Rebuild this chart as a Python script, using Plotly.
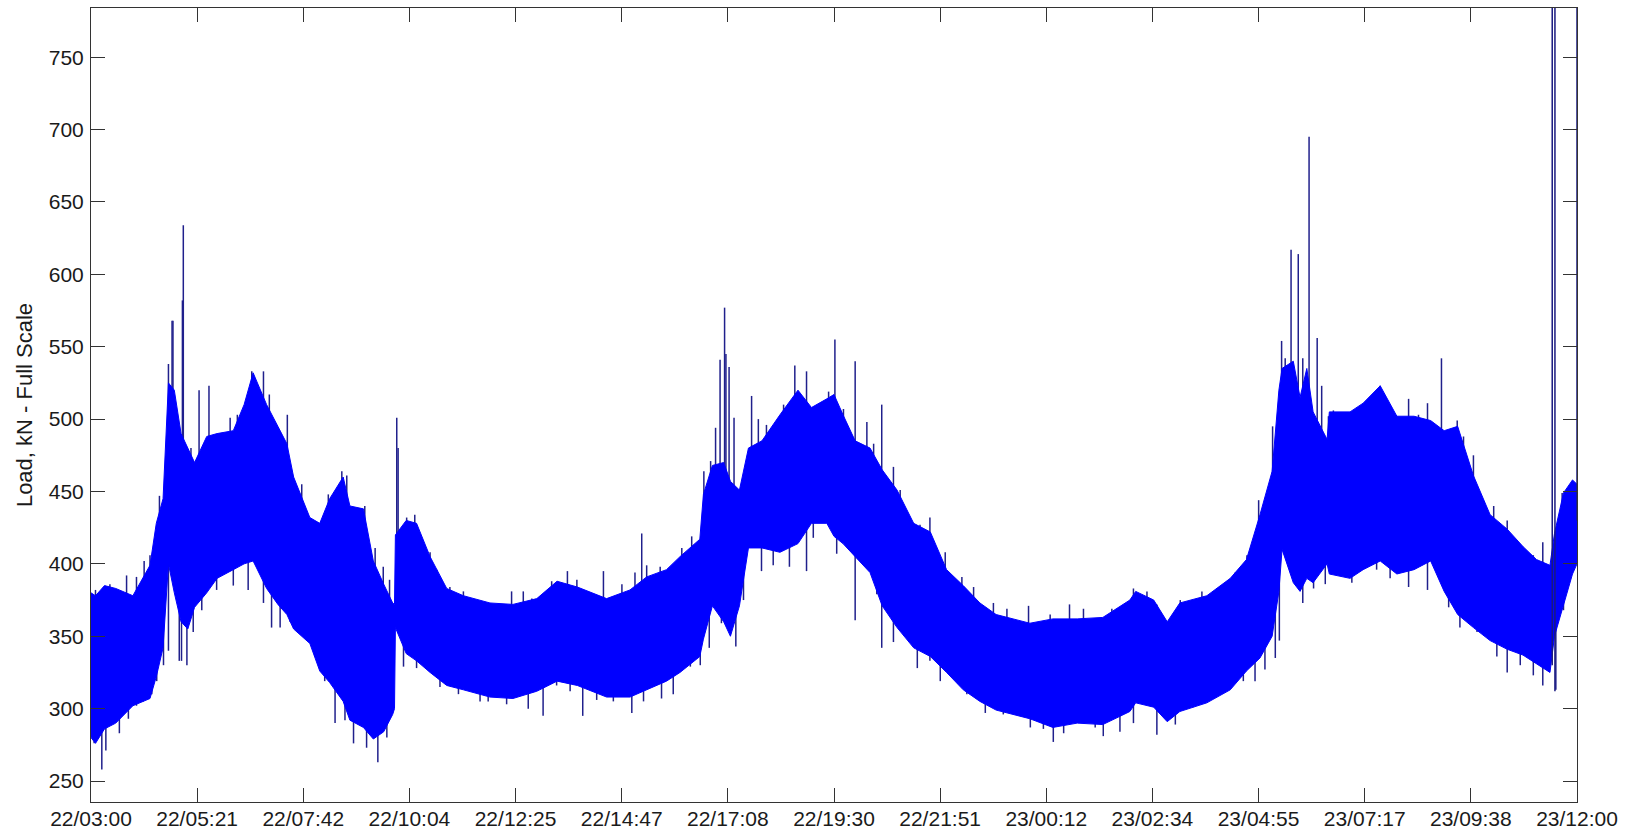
import pandas as pd
import plotly.graph_objects as go

# ---- data ----
# hours after 22/03:00, upper and lower edge of the dense load band (kN)
env_hours = [0.00, 0.10, 0.30, 0.55, 0.93, 1.31, 1.45, 1.60, 1.72, 1.85, 2.00, 2.15, 2.30, 2.57,
             2.80, 3.16, 3.40, 3.60, 3.90, 4.15, 4.35, 4.50, 4.86, 5.08, 5.30, 5.60, 5.75, 6.05,
             6.27, 6.50, 6.70, 6.74, 6.76, 7.00, 7.23, 7.53, 7.90, 8.27, 8.86, 9.37, 9.90, 10.35,
             10.80, 11.45, 11.97, 12.34, 12.78, 13.08, 13.52, 13.60, 13.80, 14.05, 14.20, 14.40,
             14.60, 14.90, 15.30, 15.70, 16.00, 16.34, 16.50, 16.70, 16.97, 17.30, 17.57, 17.90,
             18.27, 18.64, 19.00, 19.37, 19.74, 20.10, 20.85, 21.36, 21.90, 22.47, 23.07, 23.20,
             23.60, 23.90, 24.18, 24.78, 25.30, 25.66, 25.96, 26.23, 26.38, 26.45, 26.70, 26.85,
             27.00, 27.14, 27.45, 27.50, 27.96, 28.25, 28.63, 29.00, 29.38, 29.75, 30.05, 30.35,
             30.70, 31.07, 31.45, 31.80, 32.10, 32.40, 32.50, 32.70, 32.90, 33.00]
env_upper = [380, 378, 385, 383, 378, 399, 428, 445, 525, 520, 490, 480, 470, 488,
             490, 492, 510, 532, 510, 495, 483, 460, 432, 428, 445, 460, 440, 438,
             402, 386, 373, 372, 420, 430, 428, 405, 383, 378, 373, 372, 376, 388,
             384, 376, 382, 391, 396, 405, 417, 448, 468, 470, 457, 451,
             480, 485, 503, 520, 508, 514, 517, 503, 485, 480, 465, 451,
             428, 422, 396, 385, 373, 365, 359, 362, 362, 363, 375, 381,
             375, 360, 373, 378, 390, 403, 434, 464, 520, 535, 540, 515,
             535, 505, 486, 505, 505, 511, 523, 502, 502, 499, 492, 495,
             461, 434, 424, 412, 403, 399, 421, 449, 458, 455]
env_lower = [280, 276, 286, 290, 302, 307, 322, 342, 400, 380, 360, 355, 370, 380,
             390, 396, 400, 402, 383, 372, 365, 355, 345, 326, 318, 305, 292, 287,
             279, 284, 296, 300, 356, 338, 333, 325, 316, 313, 308, 307, 312, 319,
             316, 308, 308, 313, 319, 325, 336, 348, 371, 360, 350, 371,
             411, 411, 408, 414, 428, 428, 419, 414, 405, 394, 371, 356,
             342, 336, 325, 313, 305, 299, 293, 287, 290, 289, 298, 304,
             301, 291, 298, 304, 313, 326, 335, 350, 381, 410, 387, 381,
             390, 387, 400, 393, 390, 396, 402, 393, 396, 402, 381, 365,
             356, 347, 341, 337, 331, 325, 350, 371, 393, 400]

# short excursions beyond the band edge: time (h), low end, high end (kN)
spike_hours = [0.07, 0.10, 0.24, 0.33, 0.42, 0.63, 0.79, 0.83, 1.01, 1.01, 1.16, 1.18, 1.31, 1.35,
               1.46, 1.52, 1.61, 1.72, 1.80, 1.82, 1.96, 2.01, 2.03, 2.05, 2.13, 2.22, 2.27, 2.40,
               2.46, 2.62, 2.79, 3.09, 3.16, 3.25, 3.49, 3.57, 3.83, 3.96, 4.01, 4.20, 4.36, 4.42,
               4.57, 4.68, 4.75, 4.97, 5.19, 5.27, 5.42, 5.57, 5.64, 5.68, 5.83, 5.92, 6.08, 6.12,
               6.31, 6.37, 6.49, 6.57, 6.63, 6.79, 6.82, 6.94, 7.01, 7.19, 7.23, 7.42, 7.53, 7.68,
               7.75, 7.97, 8.16, 8.27, 8.64, 8.82, 9.23, 9.34, 9.60, 9.71, 9.79, 10.04, 10.23, 10.34,
               10.58, 10.64, 10.79, 10.92, 11.23, 11.38, 11.60, 11.79, 12.01, 12.08, 12.23, 12.27,
               12.34, 12.64, 12.67, 12.93, 13.12, 13.31, 13.34, 13.53, 13.61, 13.73, 13.76, 13.87,
               13.97, 14.00, 14.07, 14.10, 14.16, 14.17, 14.28, 14.32, 14.49, 14.67, 14.82, 14.89,
               15.00, 15.15, 15.38, 15.51, 15.63, 15.89, 16.04, 16.19, 16.38, 16.52, 16.56, 16.71,
               16.97, 17.23, 17.38, 17.45, 17.56, 17.82, 17.97, 18.26, 18.35, 18.41, 18.63, 18.86,
               18.97, 19.26, 19.34, 19.45, 19.60, 19.86, 20.04, 20.26, 20.34, 20.82, 20.86, 21.15,
               21.30, 21.37, 21.60, 21.73, 21.93, 22.04, 22.30, 22.48, 22.67, 22.85, 23.15, 23.45,
               23.67, 24.08, 24.19, 24.48, 24.67, 24.93, 25.00, 25.22, 25.41, 25.59, 25.67, 25.85,
               25.93, 26.07, 26.24, 26.30, 26.39, 26.44, 26.52, 26.65, 26.74, 26.81, 26.91, 27.05,
               27.15, 27.23, 27.33, 27.41, 27.48, 27.59, 27.74, 28.00, 28.41, 28.55, 28.63, 28.85,
               29.00, 29.26, 29.48, 29.68, 29.99, 30.15, 30.34, 30.40, 30.48, 30.70, 30.78, 30.93,
               31.15, 31.22, 31.45, 31.74, 31.78, 32.03, 32.24, 32.53, 32.67, 32.70, 32.84]
spike_low = [276, 340, 258, 271, 340, 283, 340, 293, 302, 350, 305, 350, 350, 310,
             319, 380, 330, 340, 420, 420, 333, 333, 420, 420, 330, 420, 353, 420,
             368, 420, 382, 440, 385, 440, 382, 450, 373, 440, 356, 356, 420, 360,
             400, 400, 350, 336, 319, 380, 290, 380, 292, 380, 276, 350, 350, 273,
             330, 263, 330, 280, 330, 380, 380, 329, 380, 380, 328, 360, 360, 350,
             315, 340, 310, 340, 305, 305, 303, 340, 340, 300, 340, 295, 350, 316,
             350, 312, 350, 295, 306, 340, 305, 340, 297, 340, 350, 305,
             350, 350, 307, 310, 360, 329, 370, 330, 400, 342, 400, 400,
             420, 359, 420, 420, 363, 420, 420, 343, 375, 450, 450, 395,
             450, 399, 460, 398, 460, 395, 418, 460, 460, 460, 407, 450,
             361, 440, 440, 379, 342, 346, 400, 390, 328, 390, 333, 319,
             360, 317, 350, 310, 340, 297, 340, 296, 330, 330, 287, 286,
             330, 277, 283, 330, 290, 330, 287, 281, 330, 284, 290, 340,
             282, 289, 340, 301, 340, 310, 350, 313, 350, 319, 360, 319,
             380, 327, 400, 335, 347, 420, 420, 420, 400, 450, 373, 450,
             383, 450, 450, 386, 450, 450, 393, 387, 450, 396, 450, 390,
             450, 384, 450, 382, 450, 370, 420, 356, 420, 400, 353, 390,
             390, 336, 325, 330, 370, 323, 316, 313, 400, 368, 400]
spike_high = [330, 382, 330, 330, 386, 340, 392, 340, 350, 391, 350, 402, 406, 350,
              370, 447, 380, 538, 568, 568, 420, 420, 582, 634, 420, 480, 420, 520,
              420, 523, 440, 501, 440, 503, 440, 533, 533, 517, 420, 420, 503, 420,
              448, 455, 400, 390, 380, 448, 350, 464, 350, 461, 350, 422, 440, 330,
              411, 330, 398, 330, 389, 501, 480, 380, 432, 434, 380, 409, 408, 396,
              350, 384, 340, 381, 340, 340, 340, 381, 381, 340, 376, 340, 388, 350,
              395, 350, 389, 340, 340, 395, 340, 386, 340, 394, 421, 350,
              399, 398, 350, 350, 411, 370, 419, 370, 464, 400, 471, 494,
              541, 420, 577, 545, 420, 536, 501, 420, 420, 516, 500, 440,
              496, 450, 510, 450, 537, 533, 460, 508, 519, 555, 450, 507,
              540, 498, 483, 430, 510, 467, 451, 428, 380, 427, 432, 360,
              408, 350, 391, 350, 384, 340, 373, 330, 369, 371, 330, 330,
              365, 330, 330, 372, 330, 369, 330, 330, 369, 330, 383, 381,
              372, 340, 375, 340, 381, 350, 383, 350, 394, 360, 406, 360,
              444, 440, 495, 380, 400, 554, 542, 617, 450, 614, 542, 695,
              430, 556, 523, 430, 502, 506, 440, 440, 514, 440, 523, 440,
              502, 514, 503, 511, 542, 420, 499, 400, 488, 475, 400, 443,
              440, 380, 430, 370, 412, 406, 415, 380, 449, 400, 446]

# the two excursions running off the top of the chart (time h, kN)
runaway_hours = [32.45, 32.45, 32.51, 32.51, None, 33.00, 33.00]
runaway_load = [330, 900, 900, 312, None, 430, 900]

start = pd.Timestamp("2013-01-22 03:00")
end = start + pd.Timedelta(hours=33)
tick_text = ["22/03:00", "22/05:21", "22/07:42", "22/10:04", "22/12:25", "22/14:47", "22/17:08",
             "22/19:30", "22/21:51", "23/00:12", "23/02:34", "23/04:55", "23/07:17", "23/09:38",
             "23/12:00"]
y_ticks = [250, 300, 350, 400, 450, 500, 550, 600, 650, 700, 750]


def to_time(hours):
    return [None if h is None else start + pd.Timedelta(hours=h) for h in hours]


env_t = to_time(env_hours)
band_x = env_t + env_t[::-1]
band_y = env_upper + env_lower[::-1]

sx, sy = [], []
for h, lo, hi in zip(spike_hours, spike_low, spike_high):
    t = start + pd.Timedelta(hours=h)
    sx += [t, t, None]
    sy += [lo, hi, None]

BLUE = "#0000ff"
EDGE = "#20208c"

fig = go.Figure()
# excursions first, so the solid band covers their inner parts
fig.add_trace(go.Scatter(x=sx, y=sy, mode="lines", line=dict(color=EDGE, width=1.5),
                         hoverinfo="skip", showlegend=False, connectgaps=False))
fig.add_trace(go.Scatter(x=band_x, y=band_y, fill="toself", fillcolor=BLUE, mode="lines",
                         line=dict(color=BLUE, width=1), hoverinfo="skip", showlegend=False))
fig.add_trace(go.Scatter(x=to_time(runaway_hours), y=runaway_load, mode="lines",
                         line=dict(color="#1a1a80", width=1.5), hoverinfo="skip",
                         showlegend=False, connectgaps=False))

FONT = "Liberation Sans, Arial, sans-serif"
tick_font = dict(family=FONT, size=21, color="#1a1a1a")
axis_common = dict(showline=True, linecolor="#333333", linewidth=1, mirror="ticks",
                   ticks="inside", ticklen=14, tickwidth=1, tickcolor="#333333",
                   showgrid=False, zeroline=False, tickfont=tick_font)

fig.update_xaxes(range=[start, end], tickmode="array",
                 tickvals=list(pd.date_range(start, end, periods=15)), ticktext=tick_text,
                 ticklabelstandoff=-2, **axis_common)
fig.update_yaxes(range=[235.5, 784], tickmode="array", tickvals=y_ticks,
                 ticktext=[str(v) for v in y_ticks], ticklabelstandoff=2,
                 title=dict(text="Load, kN - Full Scale", standoff=10,
                            font=dict(family=FONT, size=22, color="#1a1a1a")),
                 **axis_common)

fig.update_layout(width=1639, height=833, margin=dict(l=91, r=62, t=8, b=31, autoexpand=False),
                  paper_bgcolor="white", plot_bgcolor="white")

fig.write_html("out.html")
